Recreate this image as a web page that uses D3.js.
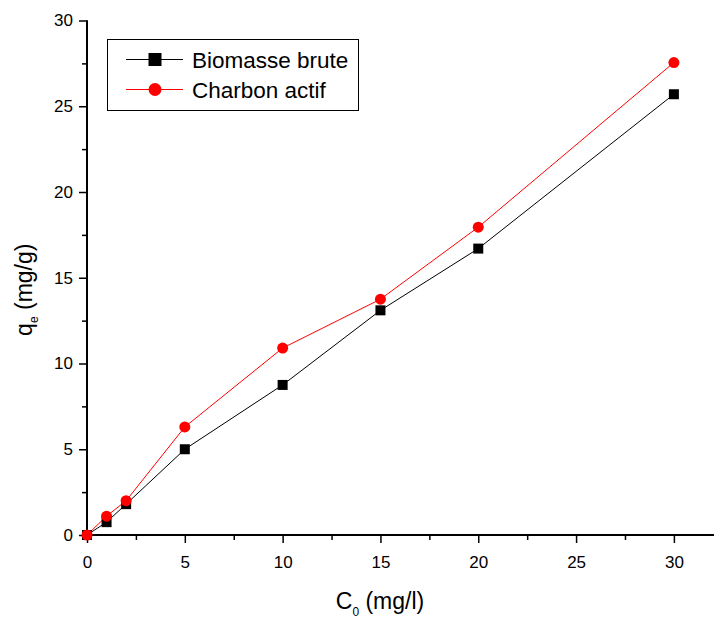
<!DOCTYPE html>
<html lang="fr">
<head>
<meta charset="utf-8" />
<title>qe vs C0</title>
<script src="https://d3js.org/d3.v7.min.js"></script>
<style>
    body { margin: 0; background: #fff; }
    text { font-family: "Liberation Sans", Arial, sans-serif; fill: #000; }
</style>
</head>
<body>
<script>
    // données
    var c0 = [0, 1, 2, 5, 10, 15, 20, 30];
    var biomasse = [0, 0.75, 1.8, 5.0, 8.75, 13.1, 16.7, 25.7];
    var charbon = [0, 1.1, 2.0, 6.3, 10.9, 13.75, 17.95, 27.55];
    var xTicks = [0, 5, 10, 15, 20, 25, 30];
    var yTicks = [0, 5, 10, 15, 20, 25, 30];

    var width = 714, height = 619;
    var margin = { left: 87, top: 20.5, right: 0, bottom: 84 };

    var svg = d3.select("body").append("svg")
        .attr("width", width)
        .attr("height", height);

    var x = d3.scaleLinear().domain([0, 32.05]).range([margin.left, width]);
    var y = d3.scaleLinear().domain([0, 30]).range([height - margin.bottom, margin.top]);

    // ticks mineurs
    var minorX = d3.range(2.5, 32, 5);
    var minorY = d3.range(2.5, 30, 5);

    var gx = svg.append("g").attr("transform", "translate(0," + y(0) + ")");
    gx.call(d3.axisBottom(x).tickValues(minorX).tickSize(5).tickFormat(""));
    gx.append("g").call(d3.axisBottom(x).tickValues(xTicks).tickSize(8).tickPadding(13).tickFormat(d3.format("d")));

    var gy = svg.append("g").attr("transform", "translate(" + x(0) + ",0)");
    gy.call(d3.axisLeft(y).tickValues(minorY).tickSize(5).tickFormat(""));
    gy.append("g").call(d3.axisLeft(y).tickValues(yTicks).tickSize(8).tickPadding(6).tickFormat(d3.format("d")));

    svg.selectAll(".domain").attr("stroke", "#000").attr("stroke-width", 2);
    gx.selectAll(".domain").attr("d", "M" + x(0) + ",0H" + width);
    gy.selectAll(".domain").attr("d", "M0," + y(30) + "V" + y(0));
    svg.selectAll(".tick line").attr("stroke", "#000").attr("stroke-width", 1.5);
    svg.selectAll(".tick text").style("font-size", "17px").attr("fill", "#000");

    // titres des axes
    var xl = svg.append("text")
        .attr("x", 380).attr("y", 609)
        .attr("text-anchor", "middle")
        .style("font-size", "23px");
    xl.append("tspan").text("C");
    xl.append("tspan").attr("dy", 7).style("font-size", "12px").text("0");
    xl.append("tspan").attr("dy", -7).text(" (mg/l)");

    var yl = svg.append("text")
        .attr("transform", "translate(32," + (y(15) + 12) + ") rotate(-90)")
        .attr("text-anchor", "middle")
        .style("font-size", "23px");
    yl.append("tspan").text("q");
    yl.append("tspan").attr("dy", 6).style("font-size", "12px").text("e");
    yl.append("tspan").attr("dy", -6).text(" (mg/g)");

    var line = d3.line()
        .x(function (d, i) { return x(c0[i]); })
        .y(function (d) { return y(d); });

    svg.append("path").datum(biomasse)
        .attr("fill", "none").attr("stroke", "#000").attr("stroke-width", 1)
        .attr("d", line);
    svg.append("path").datum(charbon)
        .attr("fill", "none").attr("stroke", "#f00").attr("stroke-width", 1)
        .attr("d", line);

    var sq = 10;
    svg.append("g").selectAll("rect").data(biomasse).enter().append("rect")
        .attr("x", function (d, i) { return x(c0[i]) - sq / 2; })
        .attr("y", function (d) { return y(d) - sq / 2; })
        .attr("width", sq).attr("height", sq)
        .attr("fill", "#000");
    svg.append("g").selectAll("circle").data(charbon).enter().append("circle")
        .attr("cx", function (d, i) { return x(c0[i]); })
        .attr("cy", function (d) { return y(d); })
        .attr("r", 5.5)
        .attr("fill", "#f00");

    // légende
    var lg = svg.append("g");
    lg.append("rect")
        .attr("x", 107.5).attr("y", 39.5).attr("width", 251).attr("height", 71)
        .attr("fill", "#fff").attr("stroke", "#000").attr("stroke-width", 1);
    var items = [
        { name: "Biomasse brute", color: "#000", shape: "square" },
        { name: "Charbon actif", color: "#f00", shape: "circle" }
    ];
    items.forEach(function (it, i) {
        var cy = 59.5 + i * 30;
        lg.append("line").attr("x1", 126).attr("x2", 183).attr("y1", cy).attr("y2", cy)
            .attr("stroke", it.color).attr("stroke-width", 1);
        if (it.shape == "square") {
            lg.append("rect").attr("x", 155 - 6.5).attr("y", cy - 6.5)
                .attr("width", 13).attr("height", 13).attr("fill", it.color);
        } else {
            lg.append("circle").attr("cx", 155).attr("cy", cy).attr("r", 6.5).attr("fill", it.color);
        }
        lg.append("text").attr("x", 192).attr("y", cy + 8)
            .style("font-size", "22.5px")
            .text(it.name);
    });
</script>
</body>
</html>
